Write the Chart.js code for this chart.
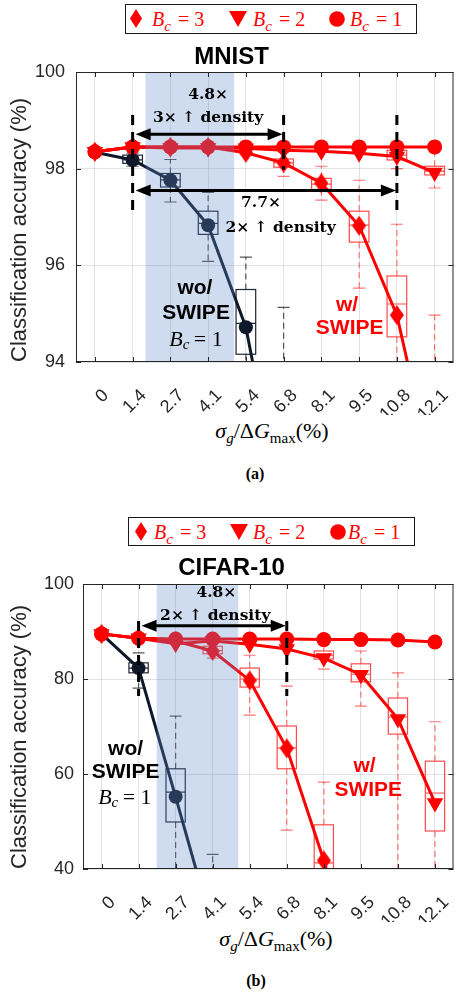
<!DOCTYPE html>
<html>
<head>
<meta charset="utf-8">
<title>SWIPE accuracy vs conductance variation</title>
<script src="https://cdn.jsdelivr.net/npm/chart.js@4.4.1/dist/chart.umd.min.js"></script>
<style>
  html, body { margin: 0; padding: 0; background: #fff; }
  body { width: 463px; height: 994px; position: relative; overflow: hidden; }
  canvas { position: absolute; left: 0; }
  .legend { position: absolute; box-sizing: border-box; border: 1.5px solid #1a1a1a; background: #fff; }
  .legend .item { position: absolute; top: 3px; line-height: 22px;
    color: #ff0000; font: 20px "Liberation Serif", "DejaVu Serif", serif; white-space: nowrap; }
  .legend .mark { position: absolute; }
  .legend .sub { font-size: 15px; position: relative; top: 5px; margin-right: 2px; }
  .xtitle { position: absolute; transform: translate(-50%, -50%); font: 22px "Liberation Serif", serif; color: #000; white-space: nowrap; }
  .xtitle sub { font-size: 15px; vertical-align: -5px; }
  .tag { position: absolute; transform: translate(-50%, -50%); font: bold 16px "Liberation Serif", serif; color: #000; }
</style>
</head>
<body>

<div class="legend" id="legendA" style="left:125px;top:4px;width:292px;height:30px"></div>
<canvas id="mnistChart" width="463" height="377" style="top:38px"></canvas>
<div class="xtitle" style="left:272px;top:432px"><i>σ</i><sub><i>g</i></sub>/Δ<i>G</i><sub>max</sub>(%)</div>
<div class="tag" style="left:255px;top:474px">(a)</div>

<div class="legend" id="legendB" style="left:128px;top:517px;width:287px;height:29px"></div>
<canvas id="cifarChart" width="463" height="374" style="top:548px"></canvas>
<div class="xtitle" style="left:276px;top:940px"><i>σ</i><sub><i>g</i></sub>/Δ<i>G</i><sub>max</sub>(%)</div>
<div class="tag" style="left:256px;top:981px">(b)</div>

<script>
// x axis: sigma_g / dG_max (%)
const sigmaLabels = ['0', '1.4', '2.7', '4.1', '5.4', '6.8', '8.1', '9.5', '10.8', '12.1'];

// MNIST accuracy (%)
const mnistBc3 = [98.35, 98.45, 98.45, 98.45, 98.33, 98.12, 97.70, 96.82, 94.97, 91.5];
const mnistBc2 = [98.35, 98.45, 98.43, 98.43, 98.42, 98.38, 98.36, 98.32, 98.25, 97.92];
const mnistBc1 = [98.35, 98.45, 98.45, 98.45, 98.45, 98.45, 98.45, 98.45, 98.45, 98.45];
const mnistNoSwipe = [98.34, 98.18, 97.76, 96.83, 94.72, 90.7, null, null, null, null];

// MNIST spread: [low whisker, q1, median, q3, high whisker]
const mnistBoxBc3 = [null, null, null, null, null,
  [97.84, 98.03, 98.12, 98.20, 98.40], [97.35, 97.57, 97.68, 97.80, 98.05],
  [95.53, 96.48, 96.83, 97.12, 97.76], [92.5, 94.52, 95.20, 95.78, 96.85], [88.0, 90.0, 91.5, 93.0, 94.97]];
const mnistBoxBc2 = [null, null, null, null, null, null, null, null,
  [98.00, 98.18, 98.28, 98.38, 98.45], [97.60, 97.87, 97.95, 98.05, 98.42]];
const mnistBoxNoSwipe = [null, [98.05, 98.11, 98.18, 98.28, 98.32], [97.31, 97.62, 97.77, 97.90, 98.19],
  [96.08, 96.64, 96.87, 97.12, 97.51], [92.0, 94.16, 94.80, 95.50, 96.17], [86.0, 89.0, 90.7, 92.0, 95.13],
  null, null, null, null];

// CIFAR-10 accuracy (%)
const cifarBc3 = [89.5, 88.6, 88.0, 85.9, 79.7, 65.4, 41.8, 15.0, null, null];
const cifarBc2 = [89.5, 88.6, 87.4, 88.0, 87.3, 86.3, 84.4, 80.9, 71.6, 53.9];
const cifarBc1 = [89.5, 88.6, 88.4, 88.4, 88.4, 88.4, 88.3, 88.3, 88.2, 87.8];
const cifarNoSwipe = [89.5, 82.3, 55.2, 27.5, null, null, null, null, null, null];

const cifarBoxBc3 = [null, null, null, [84.4, 85.3, 86.0, 86.9, 87.5], [72.4, 78.3, 80.0, 82.3, 85.0],
  [48.2, 61.1, 65.5, 70.1, 78.5], [25.0, 35.0, 41.3, 49.3, 58.3], null, null, null];
const cifarBoxBc2 = [null, null, null, null, null, null, [82.1, 84.2, 85.0, 85.9, 87.6],
  [74.3, 79.4, 81.0, 83.2, 85.9], [30.0, 68.4, 72.0, 76.0, 81.3], [35.0, 48.0, 56.0, 62.7, 71.0]];
const cifarBoxNoSwipe = [null, [78.1, 81.3, 82.3, 83.4, 85.5], [30.0, 49.9, 56.2, 61.1, 72.2],
  [15.0, 20.0, 27.0, 33.0, 43.1], null, null, null, null, null, null];

const RED = '#ff0000';
const NAVY = '#0f1829';
const TICK_FONT = { family: '"Liberation Sans", Arial, sans-serif', size: 18 };
const ANN_FONT = 'bold 15.5px "DejaVu Serif", serif';
const TAG_FONT = 'bold 21px "Liberation Sans", Arial, sans-serif';

// MATLAB style diamond marker (taller than wide)
function diamondMarker(w, h, color) {
  const c = document.createElement('canvas');
  c.width = w; c.height = h;
  const g = c.getContext('2d');
  g.fillStyle = color;
  g.beginPath();
  g.moveTo(w / 2, 0); g.lineTo(w, h / 2); g.lineTo(w / 2, h); g.lineTo(0, h / 2);
  g.closePath(); g.fill();
  return c;
}
const diamond = diamondMarker(14, 20, RED);

function legendHtml(id, pos) {
  const el = document.getElementById(id);
  const label = n => '<i>B</i><i class="sub">c</i> = ' + n;
  el.innerHTML =
    '<svg class="mark" style="left:' + (pos[0] - 6) + 'px;top:4px" width="12" height="19"><polygon points="6,0 12,9.5 6,19 0,9.5" fill="#f00"/></svg>' +
    '<div class="item" style="left:' + pos[1] + 'px">' + label(3) + '</div>' +
    '<svg class="mark" style="left:' + (pos[2] - 9) + 'px;top:6px" width="18" height="16"><polygon points="0,0 18,0 9,16" fill="#f00"/></svg>' +
    '<div class="item" style="left:' + pos[3] + 'px">' + label(2) + '</div>' +
    '<svg class="mark" style="left:' + (pos[4] - 8) + 'px;top:6px" width="16" height="16"><circle cx="8" cy="8" r="7.8" fill="#f00"/></svg>' +
    '<div class="item" style="left:' + pos[5] + 'px">' + label(1) + '</div>';
}
legendHtml('legendA', [10, 26, 112, 127, 211, 224]);
legendHtml('legendB', [12, 25, 110, 124, 209, 219]);

// pixel for a (possibly fractional) category index
function xAt(chart, i) {
  const s = chart.scales.x;
  const a = s.getPixelForValue(0), b = s.getPixelForValue(1);
  return a + (b - a) * i;
}

function drawBoxes(chart, values, color, whiskerColor) {
  const ctx = chart.ctx, y = chart.scales.y, area = chart.chartArea;
  const step = xAt(chart, 1) - xAt(chart, 0);
  const half = step * 0.26, cap = step * 0.16;
  ctx.save();
  ctx.beginPath();
  ctx.rect(area.left, area.top, area.right - area.left, area.bottom - area.top);
  ctx.clip();
  values.forEach((b, i) => {
    if (!b) return;
    const [lo, q1, med, q3, hi] = b;
    const x = xAt(chart, i);
    ctx.lineWidth = 1.2;
    ctx.strokeStyle = whiskerColor;
    ctx.setLineDash([6, 4]);
    ctx.beginPath();
    ctx.moveTo(x, y.getPixelForValue(q3)); ctx.lineTo(x, y.getPixelForValue(hi));
    ctx.moveTo(x, y.getPixelForValue(q1)); ctx.lineTo(x, y.getPixelForValue(lo));
    ctx.stroke();
    ctx.setLineDash([]);
    ctx.beginPath();
    ctx.moveTo(x - cap, y.getPixelForValue(hi)); ctx.lineTo(x + cap, y.getPixelForValue(hi));
    ctx.moveTo(x - cap, y.getPixelForValue(lo)); ctx.lineTo(x + cap, y.getPixelForValue(lo));
    ctx.stroke();
    ctx.strokeStyle = color;
    const top = y.getPixelForValue(q3), bot = y.getPixelForValue(q1);
    ctx.strokeRect(x - half, top, half * 2, bot - top);
    ctx.beginPath();
    ctx.moveTo(x - half, y.getPixelForValue(med)); ctx.lineTo(x + half, y.getPixelForValue(med));
    ctx.stroke();
  });
  ctx.restore();
}

function drawRuns(ctx, runs, cx, cy, color) {
  ctx.save();
  ctx.fillStyle = color;
  ctx.textBaseline = 'middle';
  ctx.textAlign = 'left';
  let total = 0;
  const widths = runs.map(r => { ctx.font = r[1]; const w = ctx.measureText(r[0]).width; total += w; return w; });
  let xx = cx - total / 2;
  runs.forEach((r, k) => { ctx.font = r[1]; ctx.fillText(r[0], xx, cy + (r[2] || 0)); xx += widths[k]; });
  ctx.restore();
}

function drawArrow(ctx, x0, x1, yy) {
  const head = 15, hw = 6;
  ctx.save();
  ctx.strokeStyle = '#000'; ctx.fillStyle = '#000'; ctx.lineWidth = 3;
  ctx.beginPath(); ctx.moveTo(x0 + head - 2, yy); ctx.lineTo(x1 - head + 2, yy); ctx.stroke();
  ctx.beginPath(); ctx.moveTo(x0, yy); ctx.lineTo(x0 + head, yy - hw); ctx.lineTo(x0 + head, yy + hw); ctx.closePath(); ctx.fill();
  ctx.beginPath(); ctx.moveTo(x1, yy); ctx.lineTo(x1 - head, yy - hw); ctx.lineTo(x1 - head, yy + hw); ctx.closePath(); ctx.fill();
  ctx.restore();
}

function extras(notes, boxSets) {
  return {
    id: 'swipeExtras',
    beforeDatasetsDraw(chart) {
      boxSets.forEach(s => drawBoxes(chart, s[0], s[1], s[2]));
    },
    afterDatasetsDraw(chart) {
      const { ctx, chartArea: a, scales: { y } } = chart;
      // shaded region sits over the data, like the transparent patch in the figure
      const b0 = xAt(chart, notes.band[0]), b1 = xAt(chart, notes.band[1]);
      ctx.save();
      ctx.fillStyle = 'rgba(95,138,202,0.3)';
      ctx.fillRect(b0, a.top, b1 - b0, a.bottom - a.top);
      // dashed guides
      ctx.strokeStyle = '#000';
      ctx.lineWidth = 3;
      ctx.setLineDash([10, 7]);
      notes.guides.forEach(g => {
        const gx = xAt(chart, g[0]);
        ctx.beginPath(); ctx.moveTo(gx, y.getPixelForValue(g[1])); ctx.lineTo(gx, y.getPixelForValue(g[2])); ctx.stroke();
      });
      ctx.restore();
      notes.arrows.forEach(ar => drawArrow(ctx, xAt(chart, ar[0]) + 3, xAt(chart, ar[1]) - 1, y.getPixelForValue(ar[2])));
      notes.labels.forEach(l => drawRuns(ctx, l.runs, xAt(chart, l.i), y.getPixelForValue(l.v), l.color));
    },
    afterDraw(chart) {
      const { ctx, chartArea: a, scales: { x, y } } = chart;
      ctx.save();
      ctx.strokeStyle = '#262626';
      ctx.lineWidth = 1;
      ctx.strokeRect(a.left + 0.5, a.top + 0.5, a.right - a.left - 1, a.bottom - a.top - 1);
      ctx.beginPath();
      y.ticks.forEach(t => {
        const ty = Math.round(y.getPixelForValue(t.value)) + 0.5;
        ctx.moveTo(a.left, ty); ctx.lineTo(a.left + 5, ty);
        ctx.moveTo(a.right, ty); ctx.lineTo(a.right - 5, ty);
      });
      x.ticks.forEach((t, i) => {
        const tx = Math.round(xAt(chart, i)) + 0.5;
        ctx.moveTo(tx, a.bottom); ctx.lineTo(tx, a.bottom - 5);
        ctx.moveTo(tx, a.top); ctx.lineTo(tx, a.top + 5);
      });
      ctx.stroke();
      ctx.restore();
    }
  };
}

function lineSets(bc3, bc2, bc1, noSwipe) {
  const common = { borderWidth: 3, tension: 0, pointBorderWidth: 0, spanGaps: false };
  return [
    Object.assign({ label: 'Bc=3', data: bc3, borderColor: RED, backgroundColor: RED, pointStyle: diamond, pointRadius: 9 }, common),
    Object.assign({ label: 'Bc=2', data: bc2, borderColor: RED, backgroundColor: RED, pointStyle: 'triangle', rotation: 180, pointRadius: 9.5 }, common),
    Object.assign({ label: 'Bc=1', data: bc1, borderColor: RED, backgroundColor: RED, pointStyle: 'circle', pointRadius: 7.5 }, common),
    Object.assign({ label: 'wo/ SWIPE', data: noSwipe, borderColor: NAVY, backgroundColor: NAVY, pointStyle: 'circle', pointRadius: 7 }, common)
  ];
}

function makePanel(id, opts) {
  return new Chart(document.getElementById(id), {
    type: 'line',
    data: { labels: sigmaLabels, datasets: opts.datasets },
    options: {
      responsive: false,
      animation: false,
      devicePixelRatio: 1,
      layout: { padding: 0 },
      plugins: {
        legend: { display: false },
        tooltip: { enabled: false },
        title: {
          display: true, text: opts.title, color: '#000',
          font: { family: '"Liberation Sans", Arial, sans-serif', size: 24, weight: 'bold' },
          padding: opts.titlePad
        }
      },
      scales: {
        x: {
          type: 'category',
          offset: true,
          grid: { color: 'rgba(38,38,38,0.13)', drawTicks: false },
          border: { display: false },
          ticks: { font: TICK_FONT, color: '#262626', minRotation: 45, maxRotation: 45, autoSkip: false,
            padding: 23, labelOffset: 11 },
          afterFit: s => { s.height = 53; s.paddingLeft = 0; s.paddingRight = 0; }
        },
        y: {
          min: opts.yMin, max: 100,
          grid: { color: 'rgba(38,38,38,0.13)', drawTicks: false },
          border: { display: false },
          ticks: { stepSize: opts.yStep, font: TICK_FONT, color: '#262626', padding: opts.tickPad },
          title: {
            display: true, text: 'Classification accuracy (%)', align: 'start', color: '#262626',
            font: { family: '"Liberation Sans", Arial, sans-serif', size: 22 },
            padding: { top: 7, bottom: 0 }
          },
          afterFit: s => { s.width = opts.yWidth; s.paddingTop = 0; s.paddingBottom = 0; }
        }
      }
    },
    plugins: [extras(opts.notes, opts.boxes)]
  });
}

const bcOne = [['B', 'italic 22px "Liberation Serif", serif'], ['c', 'italic 15px "Liberation Serif", serif', 5],
  ['\u2009= 1', '22px "Liberation Serif", serif']];

makePanel('mnistChart', {
  title: 'MNIST',
  titlePad: { top: 4.6, bottom: 0.6 },
  yMin: 94, yStep: 2, yWidth: 76, tickPad: 11,
  datasets: lineSets(mnistBc3, mnistBc2, mnistBc1, mnistNoSwipe),
  boxes: [
    [mnistBoxNoSwipe, '#1c2433', 'rgba(30,30,40,0.75)'],
    [mnistBoxBc3, '#ff4a4a', 'rgba(255,60,60,0.7)'],
    [mnistBoxBc2, '#ff4a4a', 'rgba(255,60,60,0.7)']
  ],
  notes: {
    band: [1.34, 3.69],
    guides: [[1, 99.11, 97.04], [5, 99.11, 97.98], [8, 99.11, 97.04]],
    arrows: [[1, 5, 98.71], [1, 8, 97.55]],
    labels: [
      { i: 3.0, v: 99.52, color: '#000', runs: [['4.8×', ANN_FONT]] },
      { i: 3.0, v: 99.04, color: '#000', runs: [['3× ↑ density', ANN_FONT]] },
      { i: 4.4, v: 97.29, color: '#000', runs: [['7.7×', ANN_FONT]] },
      { i: 4.92, v: 96.77, color: '#000', runs: [['2× ↑ density', ANN_FONT]] },
      { i: 2.65, v: 95.53, color: '#000', runs: [['wo/', TAG_FONT]] },
      { i: 2.68, v: 95.0, color: '#000', runs: [['SWIPE', TAG_FONT]] },
      { i: 2.68, v: 94.45, color: '#000', runs: bcOne },
      { i: 6.68, v: 95.17, color: RED, runs: [['w/', TAG_FONT]] },
      { i: 6.75, v: 94.7, color: RED, runs: [['SWIPE', TAG_FONT]] }
    ]
  }
});

makePanel('cifarChart', {
  title: 'CIFAR-10',
  titlePad: { top: 5.6, bottom: 1.6 },
  yMin: 40, yStep: 20, yWidth: 83, tickPad: 9,
  datasets: lineSets(cifarBc3, cifarBc2, cifarBc1, cifarNoSwipe),
  boxes: [
    [cifarBoxNoSwipe, '#1c2433', 'rgba(30,30,40,0.75)'],
    [cifarBoxBc3, '#ff4a4a', 'rgba(255,60,60,0.7)'],
    [cifarBoxBc2, '#ff4a4a', 'rgba(255,60,60,0.7)']
  ],
  notes: {
    band: [1.49, 3.69],
    guides: [[1, 92.2, 76.4], [5, 92.2, 76.4]],
    arrows: [[1, 5, 91.2]],
    labels: [
      { i: 3.1, v: 98.2, color: '#000', runs: [['4.8×', ANN_FONT]] },
      { i: 3.07, v: 93.3, color: '#000', runs: [['2× ↑ density', ANN_FONT]] },
      { i: 0.65, v: 65.3, color: '#000', runs: [['wo/', TAG_FONT]] },
      { i: 0.65, v: 60.4, color: '#000', runs: [['SWIPE', TAG_FONT]] },
      { i: 0.63, v: 55.0, color: '#000', runs: bcOne },
      { i: 7.1, v: 61.7, color: RED, runs: [['w/', TAG_FONT]] },
      { i: 7.2, v: 56.6, color: RED, runs: [['SWIPE', TAG_FONT]] }
    ]
  }
});
</script>
</body>
</html>
